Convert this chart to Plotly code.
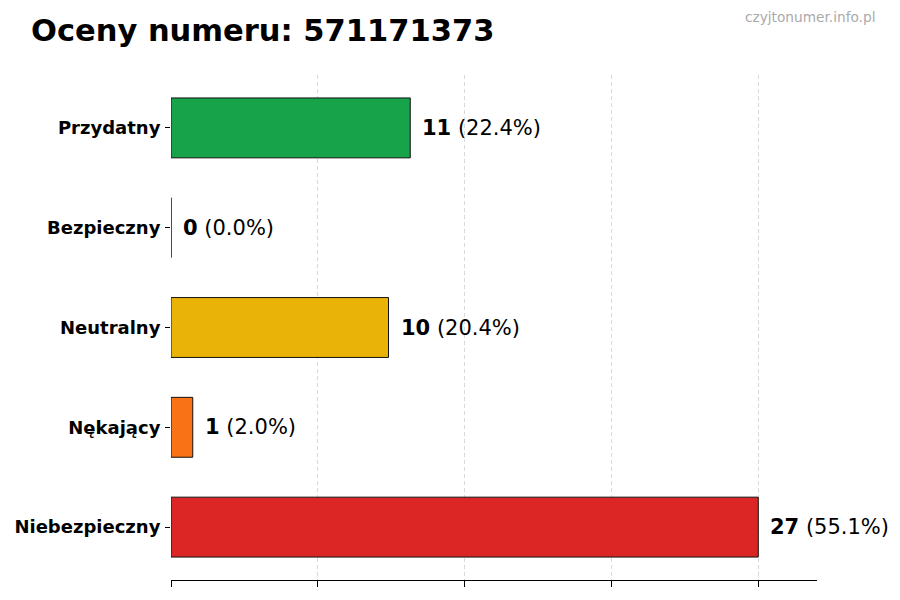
import plotly.graph_objects as go

# ratings for the number, bottom to top as drawn
categories = ["Niebezpieczny", "Nękający", "Neutralny", "Bezpieczny", "Przydatny"]
counts = [27, 1, 10, 0, 11]
colors = ["#dc2626", "#f97316", "#eab308", "#2563eb", "#16a34a"]
title_text = "Oceny numeru: 571171373"
watermark = "czyjtonumer.info.pl"

total = sum(counts)
max_val = max(counts)
grid_vals = [max_val * i / 4 for i in range(5)]

fig = go.Figure()
fig.add_trace(go.Bar(
    x=counts, y=categories, orientation="h",
    width=0.6,
    marker=dict(color=colors, line=dict(color="#111111", width=1)),
    hoverinfo="skip",
))

notes = []
for cat, n in zip(categories, counts):
    pct = 100 * n / total if total else 0
    notes.append(dict(
        x=n, y=cat, xref="x", yref="y",
        text=f"<b>{n}</b> ({pct:.1f}%)",
        showarrow=False, xanchor="left", xshift=10,
        font=dict(size=21, color="#000000"),
    ))

# the page body adds an 8px offset, so margins are shifted by that
notes.append(dict(x=0, y=1.089, xref="paper", yref="paper", xanchor="left", yanchor="middle",
                  xshift=-142, text="<b>" + title_text + "</b>", showarrow=False,
                  font=dict(size=30.5, color="#000000")))
notes.append(dict(x=1, y=1.115, xref="paper", yref="paper", xanchor="right", yanchor="middle",
                  xshift=60, text=watermark, showarrow=False,
                  font=dict(size=13.7, color="#aaaaaa")))

fig.update_layout(
    width=900, height=600,
    margin=dict(l=163, r=91, t=67, b=28),
    paper_bgcolor="white", plot_bgcolor="white",
    font=dict(family="DejaVu Sans", color="#000000"),
    showlegend=False,
    annotations=notes,
)

fig.update_xaxes(
    range=[0, max_val * 1.1],
    tickvals=grid_vals, showticklabels=False,
    ticks="outside", ticklen=6, tickcolor="#000000", tickwidth=1,
    showgrid=True, gridcolor="#d9d9d9", griddash="4px,3px", gridwidth=1,
    showline=True, linecolor="#000000", linewidth=1,
    zeroline=False, fixedrange=True, automargin=False,
)
fig.update_yaxes(
    range=[-0.53, 4.53],
    ticks="outside", ticklen=5, tickcolor="#000000", tickwidth=1,
    tickfont=dict(size=18, family="DejaVu Sans", weight="bold"),
    showgrid=False, showline=False, zeroline=False, fixedrange=True,
    ticklabelstandoff=1, automargin=False,
)

fig.write_html("out.html")
